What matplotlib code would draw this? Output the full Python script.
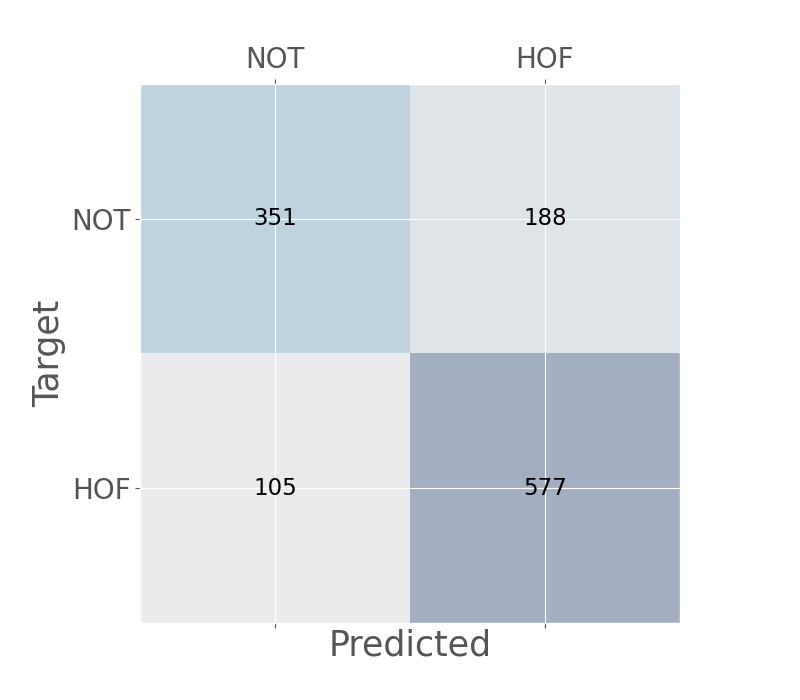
import numpy as np
import matplotlib
matplotlib.use("Agg")
import matplotlib.pyplot as plt

plt.style.use("ggplot")

labels = ["NOT", "HOF"]
counts = np.array([[351, 188],
                   [105, 577]])

fig = plt.figure(figsize=(8, 7), dpi=100)
ax = fig.add_subplot(111)
ax.matshow(counts, cmap=plt.cm.Blues, alpha=0.3)

for i in range(counts.shape[0]):
    for j in range(counts.shape[1]):
        ax.text(j, i, str(counts[i, j]), va="center", ha="center",
                fontsize=16.5, color="black")

ax.set_xticks(range(len(labels)))
ax.set_yticks(range(len(labels)))
ax.set_xticklabels(labels, fontsize=20)
ax.set_yticklabels(labels, fontsize=20)
ax.set_xlabel("Predicted", fontsize=25, labelpad=0.5)
ax.set_ylabel("Target", fontsize=25)

fig.savefig("out.png", dpi=100)
